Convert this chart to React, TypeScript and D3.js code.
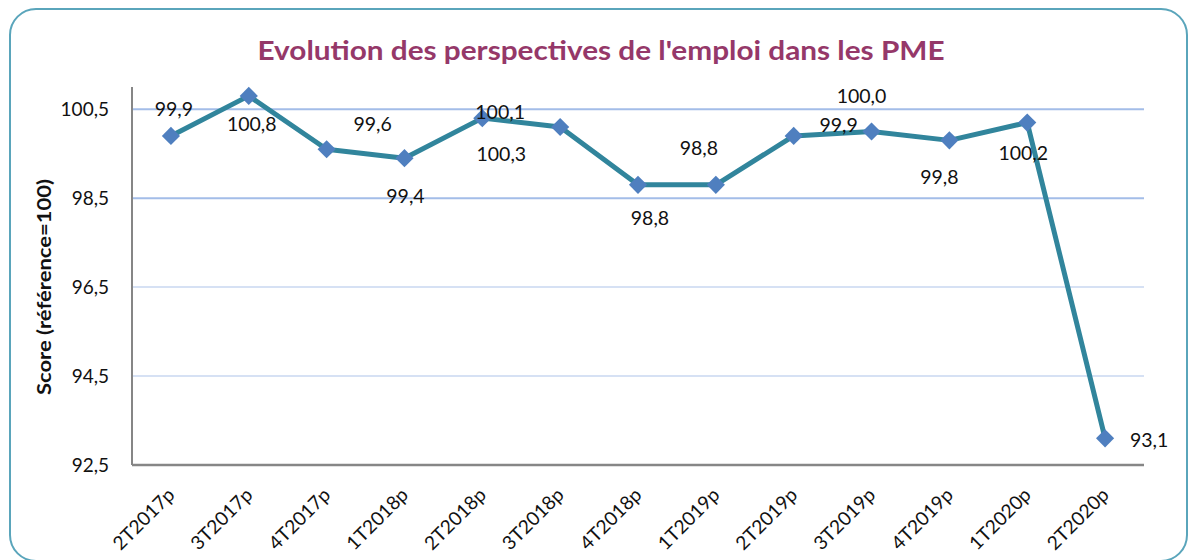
import { useEffect, useRef } from "react";
import * as d3 from "d3";

const categories = [
  "2T2017p", "3T2017p", "4T2017p", "1T2018p", "2T2018p", "3T2018p", "4T2018p",
  "1T2019p", "2T2019p", "3T2019p", "4T2019p", "1T2020p", "2T2020p",
];
const scores = [99.9, 100.8, 99.6, 99.4, 100.3, 100.1, 98.8, 98.8, 99.9, 100.0, 99.8, 100.2, 93.1];
const yTicks = [92.5, 94.5, 96.5, 98.5, 100.5];

// where each data label sits relative to its marker (as in the original layout)
const labelShift = [
  [3, -27], [3, 28], [46, -25], [1, 38], [19, 36], [-60, -15], [12, 33],
  [-17, -37], [45, -11], [-10, -35], [-10, 37], [-4, 31], [44, 2],
];

const W = 1191;
const H = 560;
const FONT = "Lato, 'Open Sans', sans-serif";

function App() {
  const ref = useRef<SVGSVGElement>(null);

  useEffect(() => {
    draw();
    // eslint-disable-next-line
  }, []);

  function draw() {
    const svg = d3.select(ref.current);
    svg.selectAll("*").remove();

    const left = 132, right = 1144, top = 87, bottom = 465;
    const comma = d3.formatLocale({ decimal: ",", thousands: " ", grouping: [3], currency: ["", "€"] }).format(".1f");

    const x = d3.scaleBand().domain(categories).range([left, right]);
    const y = d3.scaleLinear().domain([92.5, 101]).range([bottom, top]);
    const cx = (c: string) => (x(c) as number) + x.bandwidth() / 2;

    svg.append("rect")
      .attr("x", 10).attr("y", 9)
      .attr("width", 1177).attr("height", 552)
      .attr("rx", 26)
      .attr("fill", "white")
      .attr("stroke", "#5aa5bb")
      .attr("stroke-width", 2);

    svg.append("text")
      .attr("x", 601).attr("y", 60)
      .attr("text-anchor", "middle")
      .attr("font-family", FONT)
      .attr("font-weight", "bold")
      .attr("font-size", 27)
      .attr("textLength", 687)
      .attr("lengthAdjust", "spacingAndGlyphs")
      .attr("fill", "#953869")
      .text("Evolution des perspectives de l'emploi dans les PME");

    // gridlines
    svg.append("g").selectAll("line")
      .data(yTicks)
      .enter().append("line")
      .attr("x1", left).attr("x2", right)
      .attr("y1", d => y(d)).attr("y2", d => y(d))
      .attr("stroke", d => (d >= 98.5 ? "#a3bde8" : "#d6e1f4"))
      .attr("stroke-width", 2);

    // y tick labels
    svg.append("g").selectAll("text")
      .data(yTicks)
      .enter().append("text")
      .attr("x", left - 23)
      .attr("y", d => y(d))
      .attr("dy", "0.35em")
      .attr("text-anchor", "end")
      .attr("font-family", FONT)
      .attr("font-size", 19)
      .attr("fill", "#111")
      .text(d => comma(d));

    // axes
    svg.append("line")
      .attr("x1", left).attr("x2", left).attr("y1", top).attr("y2", bottom)
      .attr("stroke", "#868686").attr("stroke-width", 2);
    svg.append("line")
      .attr("x1", left).attr("x2", right).attr("y1", bottom).attr("y2", bottom)
      .attr("stroke", "#868686").attr("stroke-width", 2.5);

    svg.append("text")
      .attr("transform", `translate(51,287) rotate(-90)`)
      .attr("text-anchor", "middle")
      .attr("font-family", FONT)
      .attr("font-weight", "bold")
      .attr("font-size", 19)
      .attr("textLength", 216)
      .attr("lengthAdjust", "spacingAndGlyphs")
      .attr("fill", "#111")
      .text("Score (référence=100)");

    // x labels
    svg.append("g").selectAll("text")
      .data(categories)
      .enter().append("text")
      .attr("transform", d => `translate(${cx(d) + 5},${bottom + 31}) rotate(-45)`)
      .attr("text-anchor", "end")
      .attr("font-family", FONT)
      .attr("font-size", 19)
      .attr("textLength", 78)
      .attr("lengthAdjust", "spacingAndGlyphs")
      .attr("fill", "#111")
      .text(d => d);

    const pts = categories.map((c, i) => ({ c, v: scores[i], i }));

    const line = d3.line<{ c: string; v: number }>()
      .x(d => cx(d.c))
      .y(d => y(d.v));

    svg.append("path")
      .datum(pts)
      .attr("d", line)
      .attr("fill", "none")
      .attr("stroke", "#31859c")
      .attr("stroke-width", 5)
      .attr("stroke-linejoin", "round");

    svg.append("g").selectAll("path")
      .data(pts)
      .enter().append("path")
      .attr("d", d3.symbol(d3.symbolSquare, 165)())
      .attr("transform", d => `translate(${cx(d.c)},${y(d.v)}) rotate(45)`)
      .attr("fill", "#4f7fbf");

    svg.append("g").selectAll("text")
      .data(pts)
      .enter().append("text")
      .attr("x", d => cx(d.c) + labelShift[d.i][0])
      .attr("y", d => y(d.v) + labelShift[d.i][1])
      .attr("dy", "0.35em")
      .attr("text-anchor", "middle")
      .attr("font-family", FONT)
      .attr("font-size", 19.5)
      .attr("fill", "#111")
      .text(d => comma(d.v));
  }

  return (
    <svg ref={ref} width={W} height={H} style={{ position: "absolute", left: 0, top: 0 }}></svg>
  );
}

export default App;
